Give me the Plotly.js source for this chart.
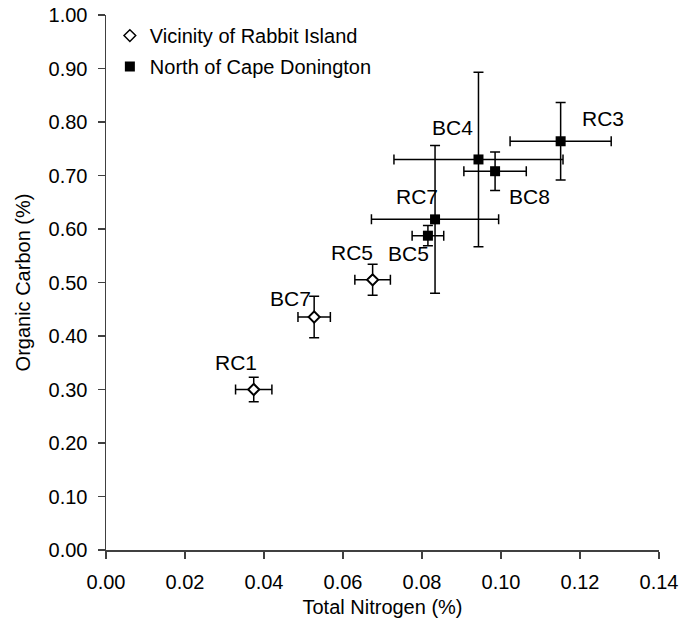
<!DOCTYPE html>
<html><head><meta charset="utf-8">
<script src="https://cdn.plot.ly/plotly-3.0.1.min.js"></script>
<style>html,body{margin:0;padding:0;background:#fff}#chart{width:681px;height:634px}</style>
</head><body><div id="chart"></div>
<script>
// Vicinity of Rabbit Island
var riLabels = ["RC1", "BC7", "RC5"];
var riN = [0.0374, 0.0527, 0.0675];
var riC = [0.300, 0.4355, 0.505];
var riNerr = [0.0046, 0.0041, 0.0045];
var riCerr = [0.023, 0.039, 0.029];
// North of Cape Donington
var cdLabels = ["BC5", "RC7", "BC4", "BC8", "RC3"];
var cdN = [0.0815, 0.0833, 0.0943, 0.0985, 0.1151];
var cdC = [0.5875, 0.618, 0.730, 0.708, 0.764];
var cdNerr = [0.0040, 0.0161, 0.0214, 0.0079, 0.0128];
var cdCerr = [0.019, 0.138, 0.163, 0.036, 0.0726];

// label offsets in px (layout only)
var offs = {RC1:[-18,27], BC7:[-24,19], RC5:[-21,27], BC5:[-19,-18], RC7:[-18,23], BC4:[-26,32], BC8:[34,-25], RC3:[42,23]};

var FONT = "Liberation Sans, Arial, sans-serif";
function eb(arr){return {type:'data', array:arr, visible:true, color:'#000', thickness:1.5, width:5};}

var traces = [
 {x:riN, y:riC, mode:'markers', type:'scatter', showlegend:false, hoverinfo:'skip',
  marker:{symbol:'diamond', size:9, color:'#fff'}},
 {x:riN, y:riC, mode:'markers', type:'scatter', name:'Vicinity of Rabbit Island', legendgroup:'a',
  marker:{symbol:'diamond-open', size:9, color:'#000', line:{width:1.5, color:'#000'}},
  error_x:eb(riNerr), error_y:eb(riCerr)},
 {x:cdN, y:cdC, mode:'markers', type:'scatter', name:'North of Cape Donington', legendgroup:'b',
  marker:{symbol:'square', size:10, color:'#000'},
  error_x:eb(cdNerr), error_y:eb(cdCerr)}
];
// keep white fill under the open diamonds but on top of the bars
traces.push({x:riN, y:riC, mode:'markers', type:'scatter', showlegend:false, hoverinfo:'skip',
  marker:{symbol:'diamond', size:8, color:'#fff', line:{width:1.5, color:'#000'}}});

var ann = [];
function addLabels(labels, xs, ys){
  for (var i=0;i<labels.length;i++){
    var o = offs[labels[i]];
    ann.push({x:xs[i], y:ys[i], text:labels[i], showarrow:false, xshift:o[0], yshift:o[1],
      font:{family:FONT, size:21, color:'#000'}});
  }
}
addLabels(riLabels, riN, riC);
addLabels(cdLabels, cdN, cdC);

var axisCommon = {showgrid:false, zeroline:false, showline:true, linecolor:'#404040', linewidth:1.5,
  ticks:'outside', ticklen:7, tickcolor:'#404040', tickwidth:1.5, tickformat:'.2f',
  tickfont:{family:FONT, size:20, color:'#000'}};

var layout = {
  width:681, height:634, paper_bgcolor:'#fff', plot_bgcolor:'#fff',
  margin:{l:106, r:22, t:15, b:84},
  showlegend:true,
  legend:{x:0.007, y:0.998, xanchor:'left', yanchor:'top', bgcolor:'rgba(0,0,0,0)',
    font:{family:FONT, size:20, color:'#000'}, itemwidth:30, tracegroupgap:2, traceorder:'grouped'},
  xaxis:Object.assign({}, axisCommon, {range:[0,0.14], dtick:0.02, tick0:0, ticklabelstandoff:6,
    title:{text:'Total Nitrogen (%)', font:{family:FONT, size:20, color:'#000'}, standoff:8}}),
  yaxis:Object.assign({}, axisCommon, {range:[0,1], dtick:0.1, tick0:0, ticklabelstandoff:6,
    title:{text:'Organic Carbon (%)', font:{family:FONT, size:20, color:'#000'}, standoff:12}}),
  annotations:ann
};
Plotly.newPlot('chart', traces, layout, {staticPlot:true, displayModeBar:false});
</script></body></html>
